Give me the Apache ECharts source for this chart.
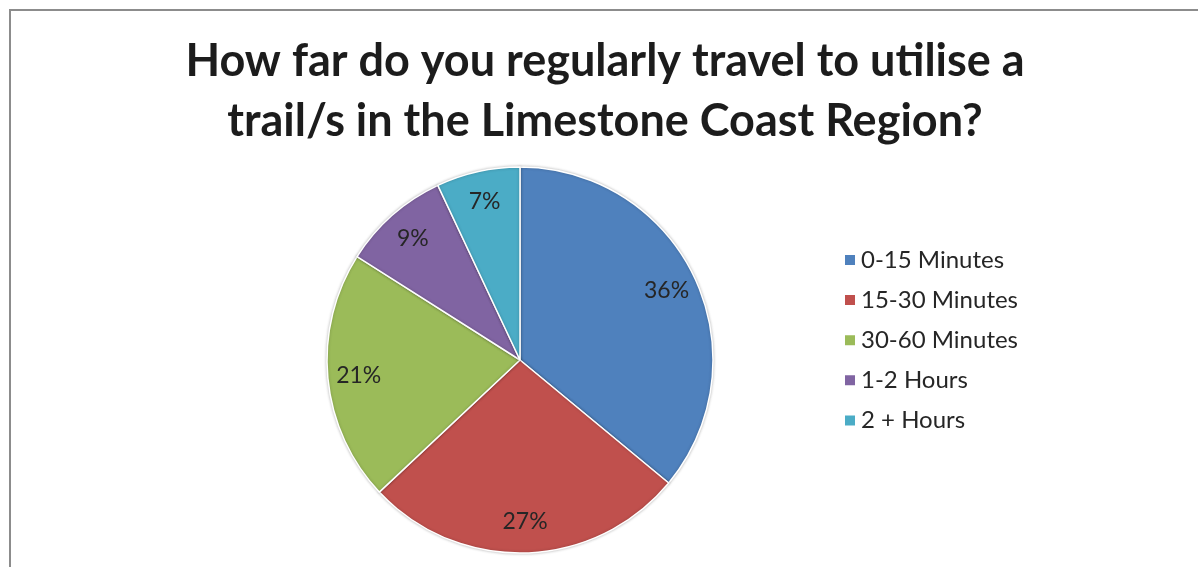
<!DOCTYPE html>
<html>
<head>
<meta charset="utf-8">
<script src="https://cdn.jsdelivr.net/npm/echarts@6/dist/echarts.min.js"></script>
<style>
  html, body { margin: 0; padding: 0; background: #ffffff; }
  #chart { width: 1198px; height: 567px; }
</style>
</head>
<body>
<div id="chart"></div>
<script>
// Survey: regular travel time to reach a trail
const categories = ['0-15 Minutes', '15-30 Minutes', '30-60 Minutes', '1-2 Hours', '2 + Hours'];
const shares = [36, 27, 21, 9, 7];
const colors = ['#4F81BD', '#C0504D', '#9BBB59', '#8064A2', '#4BACC6'];
const titleText = 'How far do you regularly travel to utilise a\ntrail/s in the Limestone Coast Region?';

const pieData = categories.map((name, i) => ({
  name: name,
  value: shares[i],
  itemStyle: { color: colors[i] }
}));

const FONT = 'Lato, "Open Sans", sans-serif';
const center = [520, 360];
const radius = 193;

const chart = echarts.init(document.getElementById('chart'), null, { renderer: 'canvas' });

chart.setOption({
  backgroundColor: '#ffffff',
  animation: false,
  title: {
    text: titleText,
    left: 605,
    top: 31,
    padding: 0,
    textAlign: 'center',
    textStyle: {
      fontFamily: FONT,
      fontWeight: 'bold',
      fontSize: 45,
      lineHeight: 60,
      color: '#1c1c1c'
    }
  },
  legend: {
    orient: 'vertical',
    left: 838,
    top: 243,
    itemWidth: 12,
    itemHeight: 12,
    itemGap: 16.1,
    icon: 'rect',
    data: categories,
    textStyle: {
      fontFamily: FONT,
      fontSize: 24,
      color: '#262626'
    }
  },
  graphic: [{
    // frame lines along the top and left edges
    type: 'rect',
    silent: true,
    shape: { x: 10, y: 10, width: 1400, height: 800 },
    style: { fill: 'none', stroke: '#8c8c8c', lineWidth: 2 }
  }],
  series: [
    {
      name: 'Travel time',
      type: 'pie',
      center: center,
      radius: radius,
      startAngle: 90,
      clockwise: true,
      silent: true,
      label: { show: false },
      labelLine: { show: false },
      itemStyle: {
        borderColor: '#ffffff',
        borderWidth: 1.5,
        shadowBlur: 3,
        shadowColor: 'rgba(0,0,0,0.25)'
      },
      data: pieData
    },
    {
      // transparent ring that only carries the percentage labels
      name: 'Labels',
      type: 'pie',
      center: center,
      radius: [125, radius],
      startAngle: 90,
      clockwise: true,
      silent: true,
      itemStyle: { color: 'rgba(0,0,0,0)' },
      label: {
        show: true,
        position: 'inside',
        formatter: '{c}%',
        fontFamily: FONT,
        fontSize: 23,
        color: '#262626'
      },
      labelLine: { show: false },
      data: pieData.map(d => ({ name: d.name, value: d.value, itemStyle: { color: 'rgba(0,0,0,0)' } }))
    }
  ]
});
</script>
</body>
</html>
